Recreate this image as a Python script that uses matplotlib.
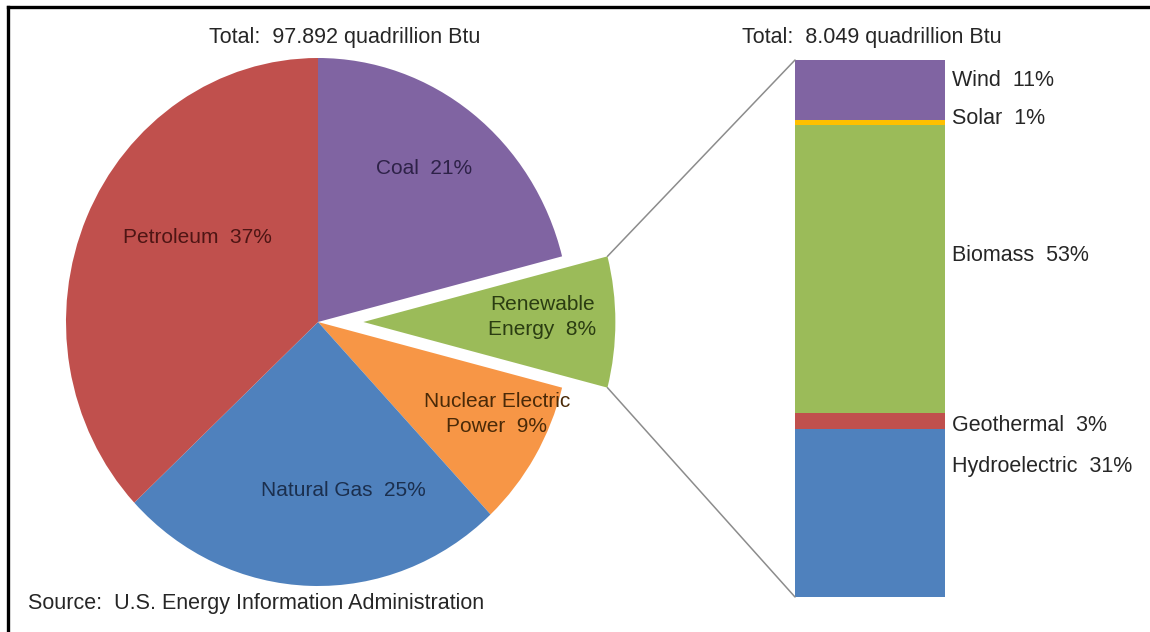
import matplotlib.pyplot as plt
from matplotlib.patches import ConnectionPatch
from matplotlib.lines import Line2D
import numpy as np

plt.rcParams["font.family"] = ["Liberation Sans", "DejaVu Sans"]

# 能源消费构成（百分比）
pie_labels = ["Coal  21%", "Renewable\nEnergy  8%", "Nuclear Electric\nPower  9%",
              "Natural Gas  25%", "Petroleum  37%"]
pie_values = [21, 8, 9, 25, 37]
pie_colors = ["#8064A2", "#9BBB59", "#F79646", "#4F81BD", "#C0504D"]
pie_text_colors = ["#2e2248", "#2b3d12", "#4a2a08", "#1b2f4e", "#4e1514"]
pie_total = "Total:  97.892 quadrillion Btu"

# 可再生能源构成（从下到上）
bar_labels = ["Hydroelectric  31%", "Geothermal  3%", "Biomass  53%", "Solar  1%", "Wind  11%"]
bar_values = [31, 3, 53, 1, 11]
bar_colors = ["#4F81BD", "#C0504D", "#9BBB59", "#FFC000", "#8064A2"]
bar_total = "Total:  8.049 quadrillion Btu"

W, H = 1150, 632
fig = plt.figure(figsize=(W / 100, H / 100), dpi=100)
fs = 15.5

# 饼图位置（像素）
cx, cy, rx, ry = 318, 322, 252, 264
span = 1.3
ax_pie = fig.add_axes([(cx - span * rx) / W, (H - cy - span * ry) / H,
                       2 * span * rx / W, 2 * span * ry / H])
explode = [0, 0.18, 0, 0, 0]
wedges, _ = ax_pie.pie(pie_values, colors=pie_colors, startangle=90, counterclock=False,
                       explode=explode, wedgeprops=dict(linewidth=0))
ax_pie.set_aspect("auto")
ax_pie.set_xlim(-span, span)
ax_pie.set_ylim(-span, span)
ax_pie.axis("off")

# 标签位置（饼图坐标）
label_pos = [(0.42, 0.58), (0.89, 0.02), (0.71, -0.35), (0.10, -0.64), (-0.48, 0.32)]
for lab, pos, c in zip(pie_labels, label_pos, pie_text_colors):
    ax_pie.text(pos[0], pos[1], lab, ha="center", va="center", fontsize=15,
                color=c, linespacing=1.4)

# 堆积柱
bx0, bx1, by0, by1 = 795, 945, 60, 597
ax_bar = fig.add_axes([bx0 / W, (H - by1) / H, (bx1 - bx0) / W, (by1 - by0) / H])
bottom = 0
for v, c in zip(bar_values, bar_colors):
    ax_bar.bar(0.5, v, width=1, bottom=bottom, color=c, linewidth=0)
    bottom += v
ax_bar.set_xlim(0, 1)
ax_bar.set_ylim(0, sum(bar_values))
ax_bar.axis("off")

label_y = [24.1, 31.7, 63, 88.3, 95.3]
for lab, y in zip(bar_labels, label_y):
    ax_bar.text(1.05, y, lab, ha="left", va="center", fontsize=fs, color="#262626",
                transform=ax_bar.transData, clip_on=False)

# 连接线
w = wedges[1]
c0 = np.array(w.center)
for theta, yb in [(w.theta2, sum(bar_values)), (w.theta1, 0)]:
    p = c0 + w.r * np.array([np.cos(np.radians(theta)), np.sin(np.radians(theta))])
    con = ConnectionPatch(xyA=tuple(p), coordsA=ax_pie.transData, xyB=(0, yb),
                          coordsB=ax_bar.transData, color="#8c8c8c", lw=1.1)
    fig.add_artist(con)

fig.text(345 / W, 1 - 38 / H, pie_total, ha="center", va="center", fontsize=fs, color="#262626")
fig.text(872 / W, 1 - 38 / H, bar_total, ha="center", va="center", fontsize=fs, color="#262626")
fig.text(28 / W, 1 - 604 / H, "Source:  U.S. Energy Information Administration",
         ha="left", va="center", fontsize=fs, color="#262626")

# 边框
fig.add_artist(Line2D([8 / W, 1.01], [1 - 7 / H, 1 - 7 / H], color="black", lw=2.4))
fig.add_artist(Line2D([8 / W, 8 / W], [1 - 7 / H, -0.01], color="black", lw=2.4))

fig.savefig("out.png", dpi=100)
